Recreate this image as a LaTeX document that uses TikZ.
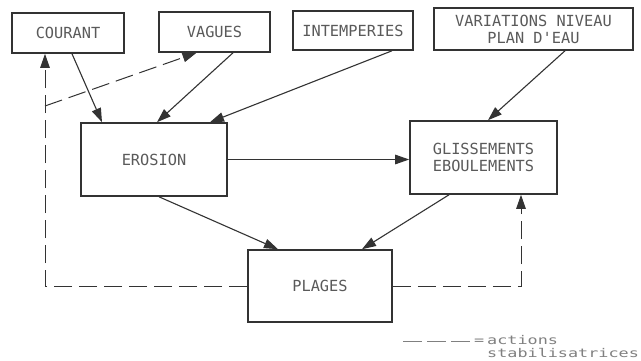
\documentclass[tikz,border=0pt]{standalone}
\usepackage{fontspec}
\setmonofont{DejaVu Sans Mono}
\newfontfamily\legendfont[FakeStretch=1.4]{DejaVu Sans Mono}
\usetikzlibrary{arrows.meta}
\definecolor{linegray}{HTML}{333333}
\definecolor{textgray}{HTML}{5A5A5A}
\definecolor{legendgray}{HTML}{808080}
\tikzset{
  stabline/.style={draw=linegray,line width=1pt,dash pattern=on 18pt off 7pt,
    -{Triangle[length=14pt,width=9.5pt]}}
}

\begin{document}
\begin{tikzpicture}[x=1pt,y=-1pt,font=\fontsize{15.3}{17}\selectfont\ttfamily]

      \useasboundingbox[fill=white] (0,0) rectangle (641,361);

      \begin{scope}[every node/.style={draw=linegray,line width=1.6pt,text=textgray,
          inner sep=0pt,align=center}]
        \node[minimum width=112pt,minimum height=40pt] (courant)     at (68,33)    {COURANT};
        \node[minimum width=111pt,minimum height=40pt] (vagues)      at (214.5,32) {VAGUES};
        \node[minimum width=120pt,minimum height=39pt] (intemperies) at (353,30.5) {INTEMPERIES};
        \node[minimum width=199pt,minimum height=42pt] (variations)  at (533.5,29) {VARIATIONS NIVEAU\\PLAN D'EAU};
        \node[minimum width=146pt,minimum height=73pt] (erosion)     at (154,159.5) {EROSION};
        \node[minimum width=147pt,minimum height=73pt] (gliss)       at (483.5,157.5) {GLISSEMENTS\\EBOULEMENTS};
        \node[minimum width=144pt,minimum height=72pt] (plages)      at (320,286)  {PLAGES};
      \end{scope}

      \begin{scope}[every edge/.style={draw=linegray,line width=1.1pt,
          -{Triangle[length=14pt,width=9.5pt]}}]
        \path ([xshift=4pt]courant.south)        edge ([xshift=-52pt]erosion.north);
        \path ([xshift=18.5pt]vagues.south)      edge ([xshift=3pt]erosion.north);
        \path ([xshift=39pt]intemperies.south)   edge ([xshift=56pt]erosion.north);
        \path ([xshift=31.5pt]variations.south)  edge ([xshift=4.5pt]gliss.north);
        \path (erosion.east)                     edge (erosion.east -| gliss.west);
        \path ([xshift=5pt]erosion.south)        edge ([xshift=-42pt]plages.north);
        \path ([xshift=-34.5pt]gliss.south)      edge ([xshift=42pt]plages.north);
      \end{scope}

      % actions stabilisatrices
      \coordinate (lcorner) at (45,286);
      \coordinate (lbranch) at (45,106);
      \draw[stabline] (plages.west) -- (lcorner) -- (lcorner |- courant.south);
      \draw[stabline] (lbranch) -- ([xshift=-18pt]vagues.south);
      \draw[stabline] (plages.east) -| ([xshift=37.5pt]gliss.south);

      % legende
      \begin{scope}[every node/.style={text=legendgray,inner sep=0pt,anchor=base west,
          font=\legendfont\fontsize{12}{13}\selectfont}]
        \node (legendeq)    at (474,344) {=};
        \node (legendtext)  at (487,344) {actions};
        \node (legendtext2) at (487,357) {stabilisatrices};
      \end{scope}
      \coordinate (legendkey) at (403,341);
      \draw[draw=legendgray,line width=1pt,dash pattern=on 19pt off 5pt] (legendkey) -- (legendkey -| legendeq.west);

    \end{tikzpicture}
\end{document}
